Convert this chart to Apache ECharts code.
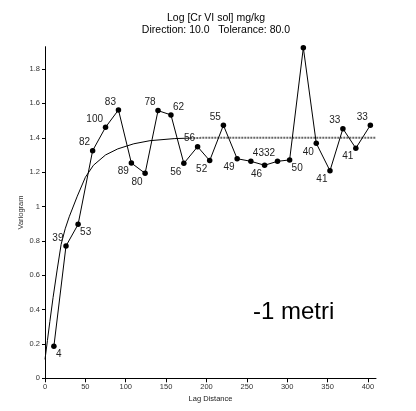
<!DOCTYPE html>
<html>
<head>
<meta charset="utf-8">
<script src="https://cdn.jsdelivr.net/npm/echarts@6/dist/echarts.min.js"></script>
<style>
html,body{margin:0;padding:0;background:#fff;}
#chart{width:416px;height:411px;}
</style>
</head>
<body>
<div id="chart"></div>
<script>
// ---- data ----
var titleLines = ['Log [Cr VI sol] mg/kg', 'Direction: 10.0   Tolerance: 80.0'];
var xName = 'Lag Distance';
var yName = 'Variogram';
var annotation = '-1 metri';
var xTicks = [0, 50, 100, 150, 200, 250, 300, 350, 400];
var yTicks = [0, 0.2, 0.4, 0.6, 0.8, 1, 1.2, 1.4, 1.6, 1.8];
var lagX = [11, 26, 41, 59, 75, 91, 107, 124, 140, 156, 172, 189, 204, 221, 238, 255, 272, 288, 303, 320, 336, 353, 369, 385, 403];
var gamma = [0.186, 0.770, 0.896, 1.325, 1.461, 1.562, 1.253, 1.193, 1.558, 1.533, 1.251, 1.348, 1.267, 1.473, 1.278, 1.263, 1.240, 1.263, 1.271, 1.924, 1.368, 1.208, 1.453, 1.339, 1.473];
var pairs = [4, 39, 53, 82, 100, 83, 89, 80, 78, 62, 56, 56, 52, 55, 49, 43, 46, 32, 50, null, 40, 41, 33, 41, 33];
var modelX = [0, 3, 6, 10, 15, 20, 25, 30, 40, 50, 60, 75, 90, 110, 130, 160, 180, 200, 410];
var modelY = [0.11, 0.22, 0.33, 0.47, 0.63, 0.78, 0.87, 0.94, 1.06, 1.17, 1.24, 1.30, 1.335, 1.365, 1.383, 1.395, 1.398, 1.4, 1.4];

// ---- styling ----
var FONT = 'Liberation Sans, Arial, sans-serif';
var labelSide = ['br','tl','br','tl','tl','tl','bl','bl','tl','tr','bl','tl','bl','tl','bl','tr','bl','tl','br',null,'bl','bl','tl','bl','tl'];
var sideStyle = {
  tl: {align: 'right', offset: [-2.5, -8]},
  tr: {align: 'left', offset: [2, -8]},
  bl: {align: 'right', offset: [-2.5, 8.5]},
  br: {align: 'left', offset: [2, 8]}
};
var grayFrom = 180;

var pointData = lagX.map(function (x, i) {
  var side = labelSide[i];
  var item = {value: [x, gamma[i]]};
  if (side && pairs[i] != null) {
    item.label = {
      show: true,
      position: 'inside',
      align: sideStyle[side].align,
      verticalAlign: 'middle',
      offset: sideStyle[side].offset,
      formatter: String(pairs[i])
    };
  } else {
    item.label = {show: false};
  }
  return item;
});

var modelPts = modelX.map(function (x, i) { return [x, modelY[i]]; });
var modelBlack = modelPts.filter(function (p) { return p[0] <= grayFrom; });
var modelGray = modelPts.filter(function (p) { return p[0] >= grayFrom; });

var chart = echarts.init(document.getElementById('chart'), null, {renderer: 'canvas'});
chart.setOption({
  animation: false,
  backgroundColor: '#fff',
  title: {
    text: titleLines.join('\n'),
    left: 211,
    textAlign: 'center',
    top: 6.5,
    textStyle: {fontFamily: FONT, fontSize: 10.5, fontWeight: 'normal', color: '#000', lineHeight: 12.5}
  },
  grid: {left: 45, right: 40, top: 46.7, bottom: 32.7},
  xAxis: {
    type: 'value',
    min: 0,
    max: 410,
    name: xName,
    nameLocation: 'middle',
    nameGap: 16.5,
    nameMoveOverlap: false,
    nameTextStyle: {fontFamily: FONT, fontSize: 7.5, color: '#222'},
    axisLine: {show: true, onZero: false, lineStyle: {color: '#000', width: 1}},
    axisTick: {show: true, length: 4, lineStyle: {color: '#000'}, customValues: xTicks},
    axisLabel: {fontFamily: FONT, fontSize: 7.5, color: '#333', margin: 5, customValues: xTicks},
    splitLine: {show: false}
  },
  yAxis: {
    type: 'value',
    min: 0,
    max: 1.93,
    name: yName,
    nameLocation: 'middle',
    nameRotate: 90,
    nameGap: 20,
    nameMoveOverlap: false,
    nameTextStyle: {fontFamily: FONT, fontSize: 7.5, color: '#333'},
    axisLine: {show: true, lineStyle: {color: '#000', width: 1}},
    axisTick: {show: true, length: 3, lineStyle: {color: '#000'}, customValues: yTicks},
    axisLabel: {fontFamily: FONT, fontSize: 7.5, color: '#333', margin: 5, customValues: yTicks},
    splitLine: {show: false}
  },
  series: [
    {
      type: 'line',
      data: modelBlack,
      showSymbol: false,
      symbol: 'none',
      lineStyle: {color: '#000', width: 1},
      z: 1
    },
    {
      type: 'line',
      data: modelGray,
      showSymbol: false,
      symbol: 'none',
      lineStyle: {color: '#666', width: 2, type: [2, 1]},
      z: 1
    },
    {
      type: 'line',
      data: pointData,
      symbol: 'circle',
      symbolSize: 5.5,
      showAllSymbol: true,
      itemStyle: {color: '#000'},
      lineStyle: {color: '#000', width: 1},
      label: {fontFamily: FONT, fontSize: 10, color: '#222'},
      z: 3
    }
  ],
  graphic: [{
    type: 'text',
    x: 253,
    y: 312,
    style: {text: annotation, fontFamily: FONT, fontSize: 24, fill: '#000', verticalAlign: 'middle', align: 'left'}
  }]
});
</script>
</body>
</html>
